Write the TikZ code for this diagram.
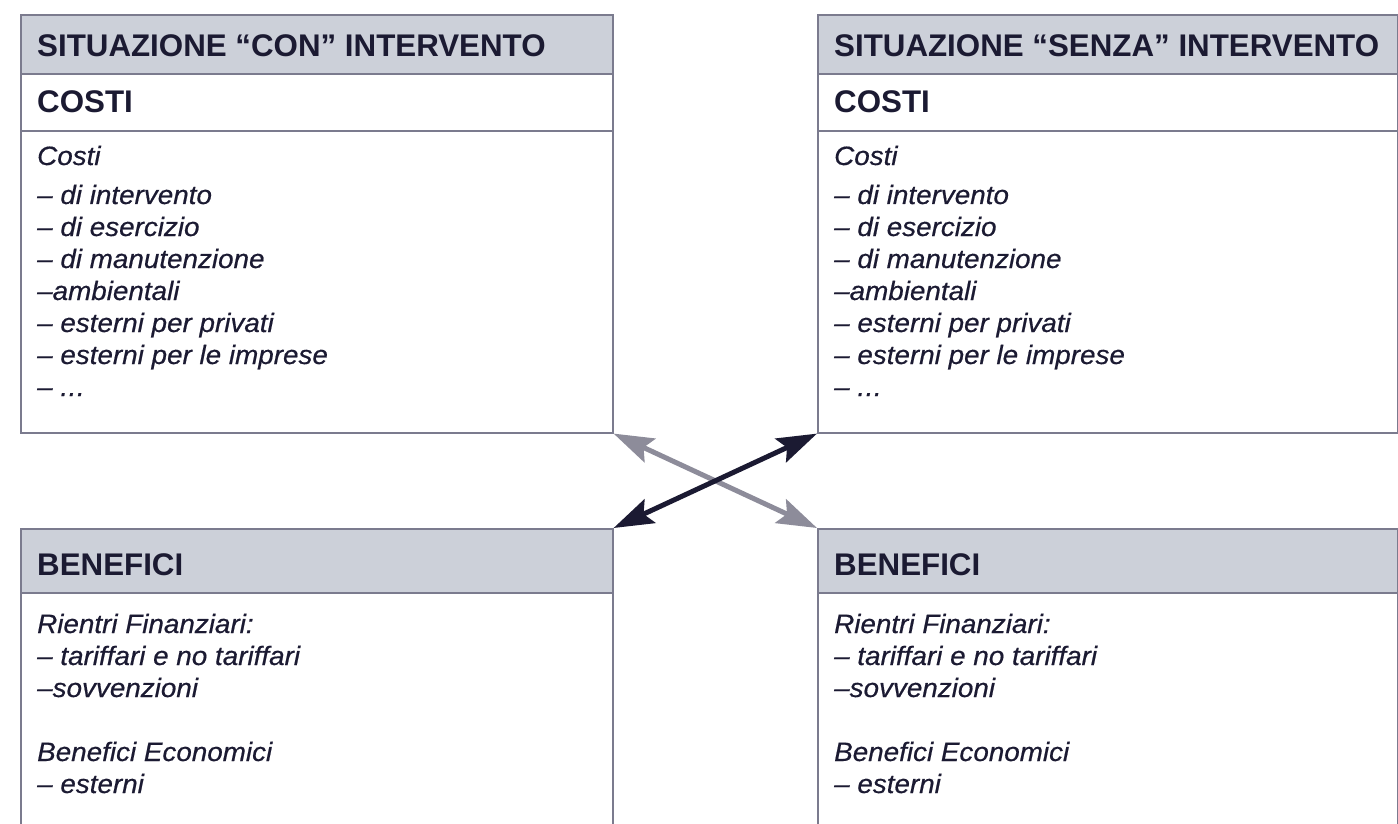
\documentclass[tikz,border=0pt]{standalone}
\usepackage{fontspec}
\setmainfont{Liberation Sans}
\newfontfamily\bodyfont[FakeBold=0.5,FakeStretch=1.05]{Liberation Sans Italic}
\usetikzlibrary{arrows.meta}
\definecolor{ink}{HTML}{1B1A32}
\definecolor{hdrfill}{HTML}{CCD0D9}
\definecolor{edgecol}{HTML}{7B7B8E}
\definecolor{greyarrow}{HTML}{8D8C9A}
\newcommand\ldotsfix{.\kern0.02em.\kern0.02em.}
\newcommand\costibox[4]{% #1 prefix, #2 x, #3 width, #4 title
  \node[headpart, minimum width=#3, minimum height=59pt] (#1h) at (#2,14) {};
  \node[part, minimum width=#3, minimum height=57pt] (#1c) at (#2,73) {};
  \node[part, minimum width=#3, minimum height=302pt] (#1b) at (#2,130) {};
  \node[headtext] (#1ht) at ({#2+17},57) {#4};
  \node[headtext] (#1ct) at ({#2+17},113) {COSTI};
  \foreach \yy/\txt [count=\i] in {165/{Costi}, 204/{– di intervento}, 236/{– di esercizio}, 268/{– di manutenzione}, 300/{–ambientali}, 332/{– esterni per privati}, 364/{– esterni per le imprese}, 396/{– \ldotsfix}}
    \node[bodytext] (#1l\i) at ({#2+17},\yy) {\txt};
}
\newcommand\beneficibox[3]{% #1 prefix, #2 x, #3 width
  \node[headpart, minimum width=#3, minimum height=64pt] (#1h) at (#2,528) {};
  \node[part, minimum width=#3, minimum height=280pt] (#1b) at (#2,592) {};
  \node[headtext] (#1ht) at ({#2+17},575) {BENEFICI};
  \foreach \yy/\txt [count=\i] in {633/{Rientri Finanziari:}, 665/{– tariffari e no tariffari}, 697/{–sovvenzioni}, 761/{Benefici Economici}, 793/{– esterni}}
    \node[bodytext] (#1l\i) at ({#2+17},\yy) {\txt};
}
\begin{document}
\begin{tikzpicture}[x=1pt,y=-1pt,
  part/.style={draw=edgecol, line width=1.6pt, inner sep=0pt, anchor=north west},
  headpart/.style={part, fill=hdrfill},
  headtext/.style={anchor=base west, inner sep=0pt, text=ink, font=\bfseries\fontsize{31.3}{36}\selectfont},
  bodytext/.style={anchor=base west, inner sep=0pt, text=ink, font=\bodyfont\fontsize{26.5}{32}\selectfont},
  twoway/.style={line width=5pt, {Stealth[length=40pt,width=26pt,inset=7pt]}-{Stealth[length=40pt,width=26pt,inset=7pt]}},
]
\useasboundingbox (0,0) rectangle (1398,824);
\fill[white] (0,0) rectangle (1398,824);
\costibox{L}{20}{592pt}{SITUAZIONE “CON” INTERVENTO}
\costibox{R}{817}{580pt}{SITUAZIONE “SENZA” INTERVENTO}
\beneficibox{BL}{20}{592pt}
\beneficibox{BR}{817}{580pt}
\draw[twoway, greyarrow] (Lb.south east) -- (BRh.north west);
\draw[twoway, ink] (BLh.north east) -- (Rb.south west);
\end{tikzpicture}
\end{document}
